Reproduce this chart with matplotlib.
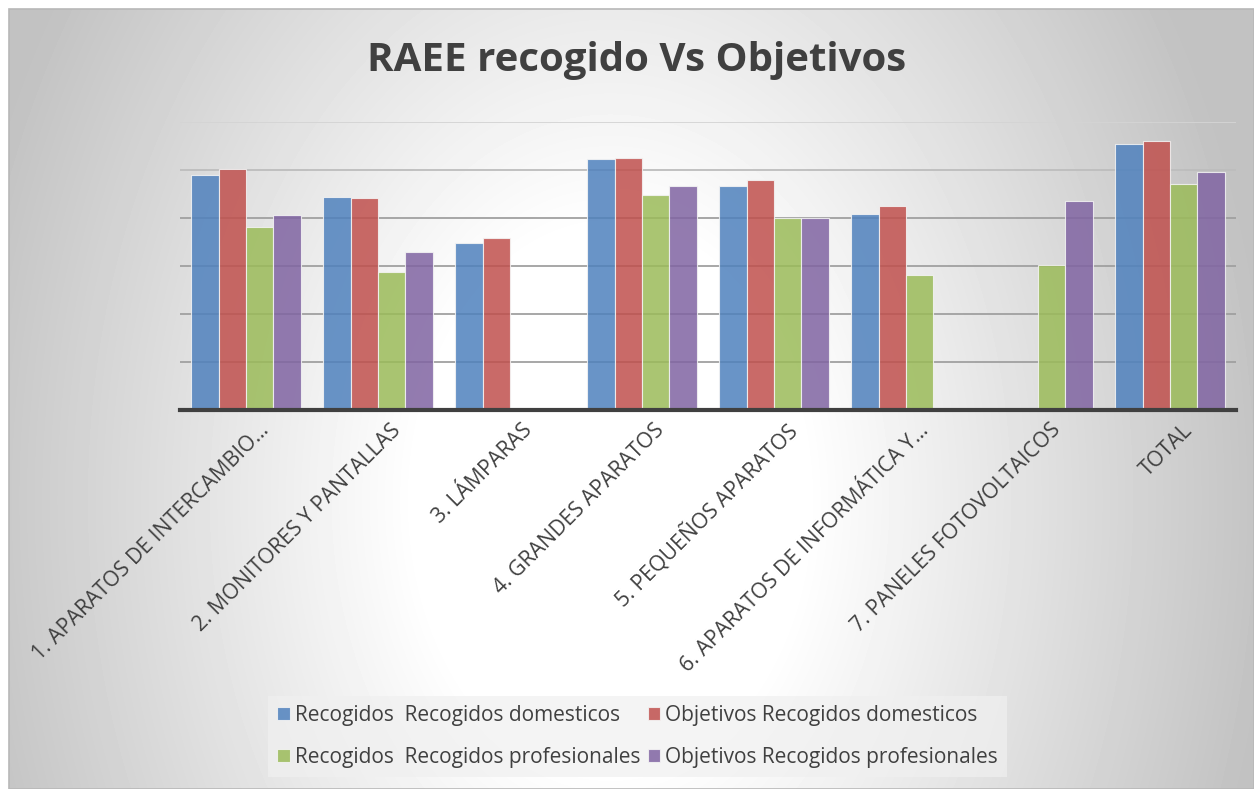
import matplotlib.pyplot as plt
import matplotlib.transforms as mtransforms
import numpy as np

# categories and series (values in gridline units, no y scale shown)
categorias = ['1. APARATOS DE INTERCAMBIO…', '2. MONITORES Y PANTALLAS', '3. LÁMPARAS',
              '4. GRANDES APARATOS', '5. PEQUEÑOS APARATOS', '6. APARATOS DE INFORMÁTICA Y…',
              '7. PANELES FOTOVOLTAICOS', 'TOTAL']
rec_domesticos = [4.90, 4.44, 3.48, 5.23, 4.67, 4.08, 0, 5.54]
obj_domesticos = [5.02, 4.42, 3.58, 5.25, 4.79, 4.25, 0, 5.60]
rec_profesionales = [3.81, 2.87, 0, 4.48, 4.00, 2.81, 3.02, 4.71]
obj_profesionales = [4.06, 3.29, 0, 4.67, 4.00, 0, 4.35, 4.96]

series = [('Recogidos  Recogidos domesticos', rec_domesticos, '#4F81BD'),
          ('Objetivos Recogidos domesticos', obj_domesticos, '#C0504D'),
          ('Recogidos  Recogidos profesionales', rec_profesionales, '#9BBB59'),
          ('Objetivos Recogidos profesionales', obj_profesionales, '#8064A2')]

plt.rcParams['font.family'] = ['Open Sans', 'DejaVu Sans']

W, H = 1254, 789
fig = plt.figure(figsize=(W / 100, H / 100), dpi=100)

# gray background, white towards the centre
bg = fig.add_axes([9 / W, 0, 1 - 9 / W, 1 - 9 / H], zorder=0)
yy, xx = np.mgrid[9:H, 9:W]
r = np.hypot((xx - 610) / 650, (yy - 500) / 900)
g = 1 - 0.24 * np.clip((r - 0.3) / 0.72, 0, 1)
bg.imshow(g, cmap='gray', vmin=0, vmax=1, aspect='auto', interpolation='bilinear')
bg.set_axis_off()
fig.patches.append(plt.Rectangle((9 / W, 0), 1 - 9 / W, 1 - 9 / H, transform=fig.transFigure,
                                 fill=False, edgecolor='#b8b8b8', lw=1.2, zorder=5))

ax = fig.add_axes([180 / W, 1 - 410 / H, (1236 - 180) / W, (410 - 122) / H], zorder=1)
ax.patch.set_alpha(0)

x = np.arange(len(categorias))
w = 0.208
for i, (nombre, vals, color) in enumerate(series):
    ax.bar(x + (i - 1.5) * w, vals, w, color=color, alpha=0.85, edgecolor='#f4f4f4',
           linewidth=0.8, label=nombre, zorder=3)

ax.set_xlim(-0.5, len(categorias) - 0.5)
ax.set_ylim(0, 6)
ax.set_yticks([1, 2, 3, 4, 5, 6])
ax.yaxis.grid(True, color='#a0a0a0', lw=1.3, zorder=1)
ax.set_axisbelow(True)
grid_lines = ax.yaxis.get_gridlines()
grid_lines[-1].set_color('#d4d4d4')
grid_lines[-2].set_color('#bdbdbd')
ax.tick_params(axis='y', left=False, labelleft=False)
ax.tick_params(axis='x', length=0, pad=7, colors='#404040')
ax.set_xticks(x)
ax.set_xticklabels(categorias, rotation=45, ha='right', rotation_mode='anchor', fontsize=15.3)
desplaza = mtransforms.ScaledTranslation(12 / 100, 0, fig.dpi_scale_trans)
for t in ax.get_xticklabels():
    t.set_transform(t.get_transform() + desplaza)
for s in ['top', 'right', 'left']:
    ax.spines[s].set_visible(False)
ax.spines['bottom'].set_color('#404040')
ax.spines['bottom'].set_linewidth(3)
ax.spines['bottom'].set_zorder(4)

fig.text(0.508, 1 - 60 / H, 'RAEE recogido Vs Objetivos', ha='center', va='center',
         fontsize=29, fontweight='bold', color='#404040')

h, l = ax.get_legend_handles_labels()
orden = [0, 2, 1, 3]
leg = fig.legend([h[i] for i in orden], [l[i] for i in orden], ncol=2,
                 loc='center', bbox_to_anchor=(0.5084, 0.0665), fontsize=15,
                 frameon=True, facecolor='#f0f0f0', edgecolor='none', framealpha=0.7,
                 fancybox=False, handlelength=0.6, handleheight=0.6, handletextpad=0.25,
                 columnspacing=0.35, labelspacing=1.0, borderpad=0.45)
for t in leg.get_texts():
    t.set_color('#404040')

fig.savefig('out.png', dpi=100)
